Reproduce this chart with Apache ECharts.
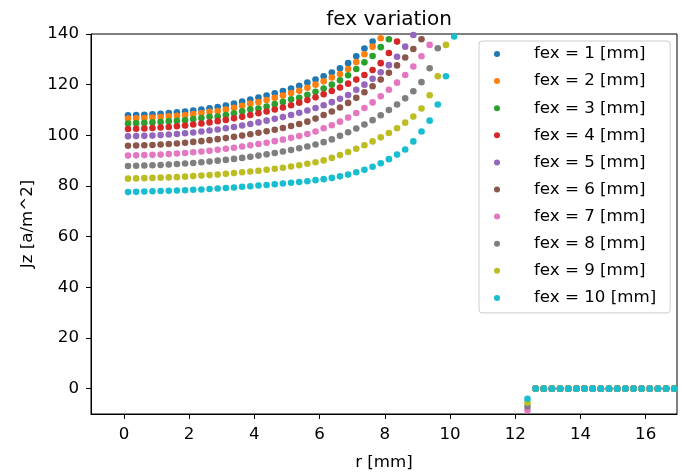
<!DOCTYPE html>
<html>
<head>
<meta charset="utf-8">
<script src="https://cdn.jsdelivr.net/npm/echarts@6/dist/echarts.min.js"></script>
<style>
  html, body { margin: 0; padding: 0; background: #ffffff; }
  #chart { width: 681px; height: 476px; }
</style>
</head>
<body>
<div id="chart"></div>
<script>
// Radial sample positions [mm] inside the conductor region
const rInner = [
  0.125, 0.375, 0.625, 0.875, 1.125, 1.375, 1.625, 1.875, 2.125, 2.375,
  2.625, 2.875, 3.125, 3.375, 3.625, 3.875, 4.125, 4.375, 4.625, 4.875,
  5.125, 5.375, 5.625, 5.875, 6.125, 6.375, 6.625, 6.875, 7.125, 7.375,
  7.625, 7.875, 8.125, 8.375, 8.625, 8.875, 9.125, 9.375, 9.625, 9.875,
  10.125
];
// Sample at the gap edge, and samples in the outer (current-free) region
const rGap = 12.375;
const rOuter = [
  12.625, 12.875, 13.125, 13.375, 13.625, 13.875, 14.125, 14.375, 14.625,
  14.875, 15.125, 15.375, 15.625, 15.875, 16.125, 16.375, 16.625, 16.875
];

// Axial current density Jz [a/m^2] for each fex value (visible part of each curve)
const jzFex1 = [107.9,108.0,108.1,108.3,108.5,108.8,109.1,109.4,109.8,110.2,110.7,111.2,111.8,112.5,113.3,114.1,114.9,115.7,116.6,117.5,118.5,119.6,120.8,122.0,123.3,124.8,126.5,128.5,131.2,134.3,137.0];
const jzFex2 = [106.6,106.7,106.8,107.0,107.2,107.5,107.7,108.0,108.4,108.8,109.3,109.6,110.2,110.9,111.7,112.5,113.1,113.9,114.8,115.7,116.7,117.6,118.8,120.0,121.3,122.8,124.2,126.2,128.9,132.0,135.0,138.3];
const jzFex3 = [104.7,104.8,104.9,105.1,105.3,105.6,105.7,106.0,106.4,106.8,107.3,107.4,108.0,108.7,109.5,110.3,110.6,111.4,112.3,113.2,114.2,114.8,116.0,117.2,118.5,120.0,121.7,123.7,126.2,128.8,131.3,134.8,137.9];
const jzFex4 = [102.5,102.6,102.7,102.9,103.1,103.3,103.6,103.9,104.3,104.7,105.1,105.6,106.1,106.7,107.3,108.0,108.7,109.4,110.2,111.0,111.9,112.9,113.9,115.0,116.2,117.5,118.9,120.4,122.0,123.8,125.8,128.5,132.5,137.0];
const jzFex5 = [99.6,99.7,99.8,99.9,100.1,100.3,100.5,100.8,101.1,101.5,101.9,102.3,102.8,103.3,103.9,104.5,105.1,105.8,106.5,107.2,108.0,108.9,109.8,110.8,111.9,113.1,114.4,115.9,118.0,120.0,122.3,124.9,127.7,131.0,135.0,139.6];
const jzFex6 = [95.9,96.0,96.1,96.2,96.4,96.6,96.8,97.1,97.4,97.7,98.1,98.5,98.9,99.4,99.9,100.4,101.0,101.6,102.2,102.9,103.7,104.5,105.4,106.6,108.0,109.4,111.0,112.8,114.8,117.0,119.4,122.0,124.7,127.6,130.7,134.1,137.9];
const jzFex7 = [92.0,92.1,92.2,92.3,92.4,92.6,92.8,93.0,93.3,93.6,93.9,94.3,94.7,95.1,95.6,96.1,96.6,97.1,97.7,98.3,99.0,99.7,100.5,101.5,102.8,104.0,105.4,107.0,108.8,110.8,113.0,115.4,118.0,120.8,123.8,127.2,131.2,135.7];
const jzFex8 = [87.9,88.0,88.1,88.2,88.3,88.5,88.7,88.9,89.1,89.4,89.7,90.0,90.3,90.7,91.1,91.5,92.0,92.5,93.0,93.6,94.2,94.9,95.6,96.4,97.3,98.4,99.8,101.2,102.7,104.3,106.0,107.9,110.0,112.2,114.6,117.4,121.0,126.5,134.4];
const jzFex9 = [82.9,83.0,83.1,83.2,83.3,83.4,83.5,83.7,83.9,84.1,84.3,84.5,84.8,85.1,85.4,85.7,86.0,86.4,86.8,87.2,87.7,88.2,88.8,89.4,90.1,91.1,92.2,93.4,94.7,96.1,97.6,99.2,100.9,102.8,105.0,107.4,110.6,115.8,123.3,135.7];
const jzFex10 = [77.6,77.7,77.8,77.9,78.0,78.1,78.2,78.3,78.5,78.6,78.8,79.0,79.2,79.4,79.7,79.9,80.2,80.4,80.7,81.0,81.3,81.6,81.9,82.3,82.7,83.2,83.8,84.5,85.4,86.4,87.6,89.0,90.6,92.4,94.4,97.6,101.5,105.8,112.2,123.3,139.0];

// Value at the gap edge for fex = 1 ... 10
const jzGap = [-25, -21, -18, -15, -13, -10.5, -8.5, -7, -5.5, -4];
// Outer region carries no current
const jzOuter = [0,0,0,0,0,0,0,0,0,0,0,0,0,0,0,0,0,0];

const fexValues = [1, 2, 3, 4, 5, 6, 7, 8, 9, 10];
const xTicks = [0, 2, 4, 6, 8, 10, 12, 14, 16];
const yTicks = [0, 20, 40, 60, 80, 100, 120, 140];

const curves = [jzFex1, jzFex2, jzFex3, jzFex4, jzFex5, jzFex6, jzFex7, jzFex8, jzFex9, jzFex10];
const palette = ['#1f77b4', '#ff7f0e', '#2ca02c', '#d62728', '#9467bd',
                 '#8c564b', '#e377c2', '#7f7f7f', '#bcbd22', '#17becf'];
const FONT = 'DejaVu Sans';
const FS = 16.67;

const labels = fexValues.map(f => 'fex = ' + f + ' [mm]');

const series = curves.map((vals, i) => {
  const pts = vals.map((v, k) => [rInner[k], v]);
  pts.push([rGap, jzGap[i]]);
  rOuter.forEach((r, k) => pts.push([r, jzOuter[k]]));
  return {
    type: 'scatter',
    name: labels[i],
    data: pts,
    symbol: 'circle',
    symbolSize: 6.6,
    clip: true,
    itemStyle: { color: palette[i], opacity: 1 },
    emphasis: { disabled: true }
  };
});

const chart = echarts.init(document.getElementById('chart'), null, { renderer: 'canvas' });
chart.setOption({
  animation: false,
  backgroundColor: '#ffffff',
  title: {
    text: 'fex variation',
    left: 384,
    top: 5,
    textAlign: 'center',
    textStyle: { fontFamily: FONT, fontSize: 20, fontWeight: 'normal', color: '#000' }
  },
  grid: {
    left: 91, top: 34, right: 4, bottom: 58,
    show: true, borderColor: '#000', borderWidth: 1, backgroundColor: 'transparent'
  },
  legend: {
    orient: 'vertical',
    left: 479,
    top: 41,
    data: labels,
    icon: 'circle',
    itemWidth: 6,
    itemHeight: 6,
    itemGap: 7.1,
    padding: [3, 14, 5, 15],
    backgroundColor: 'rgba(255,255,255,0.8)',
    borderColor: '#cccccc',
    borderWidth: 1,
    borderRadius: 3,
    textStyle: { fontFamily: FONT, fontSize: FS, color: '#000', lineHeight: 20, padding: [0, 0, 0, 29] }
  },
  xAxis: {
    type: 'value',
    min: -1.01,
    max: 16.96,
    name: 'r [mm]',
    nameLocation: 'middle',
    nameGap: 40,
    nameTextStyle: { fontFamily: FONT, fontSize: FS, color: '#000' },
    axisLine: { show: true, onZero: false, lineStyle: { color: '#000', width: 1 } },
    axisTick: { show: true, customValues: xTicks, length: 5, lineStyle: { color: '#000' } },
    axisLabel: { customValues: xTicks, fontFamily: FONT, fontSize: FS, color: '#000', margin: 12 },
    splitLine: { show: false }
  },
  yAxis: {
    type: 'value',
    min: -10,
    max: 140,
    name: 'Jz [a/m^2]',
    nameLocation: 'middle',
    nameGap: 55,
    nameRotate: 90,
    nameTextStyle: { fontFamily: FONT, fontSize: FS, color: '#000' },
    axisLine: { show: true, onZero: false, lineStyle: { color: '#000', width: 1 } },
    axisTick: { show: true, customValues: yTicks, length: 5, lineStyle: { color: '#000' } },
    axisLabel: { customValues: yTicks, fontFamily: FONT, fontSize: FS, color: '#000', margin: 12 },
    splitLine: { show: false }
  },
  series: series
});
</script>
</body>
</html>
